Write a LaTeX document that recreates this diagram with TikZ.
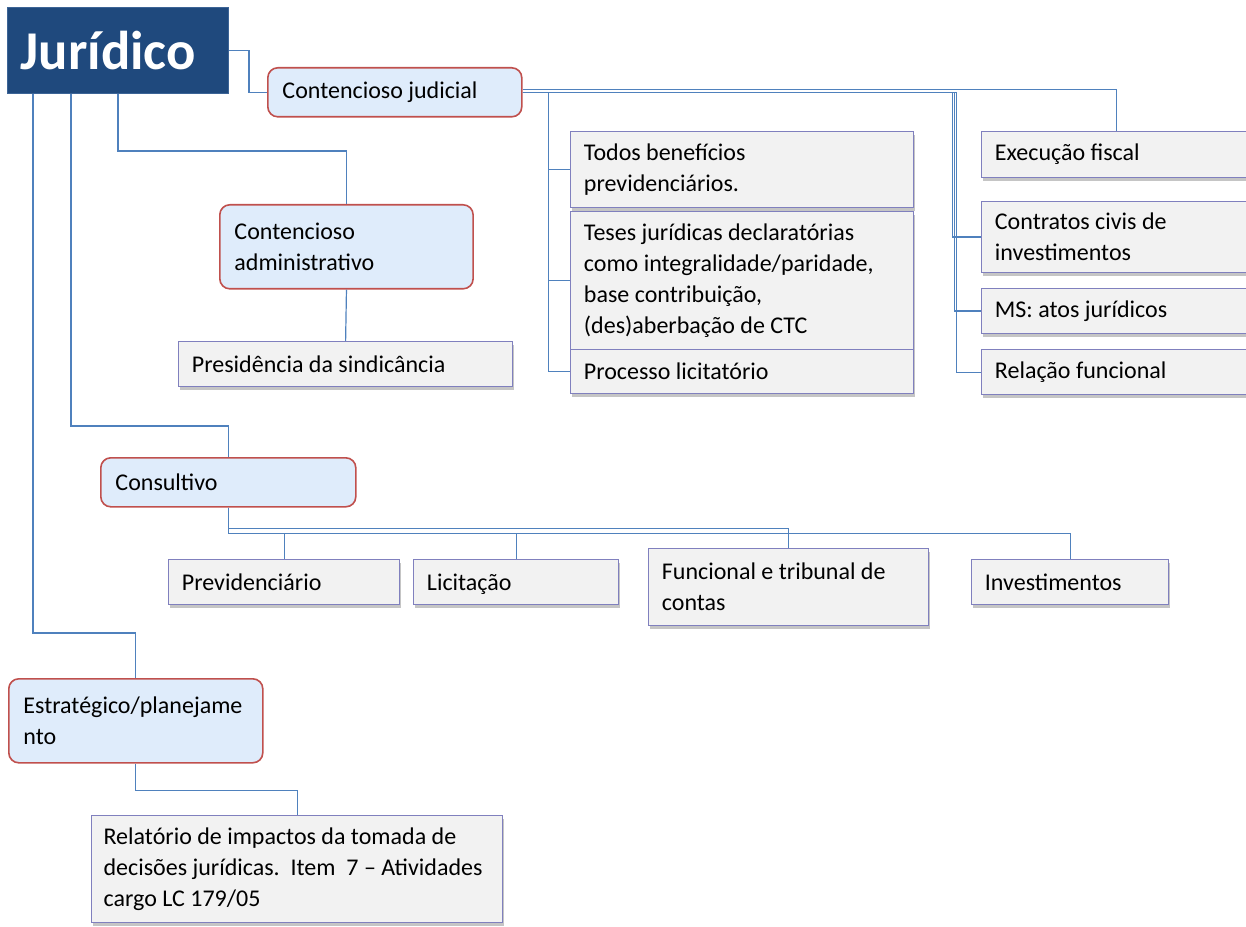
\documentclass[tikz,border=0pt]{standalone}
\usepackage{fontspec}
\setmainfont{Carlito}
\usepackage{tikz}
\usetikzlibrary{shadows,calc}

\begin{document}
\begin{tikzpicture}[x=0.75pt,y=0.75pt,yscale=-1,xscale=1,
  every node/.style={font=\fontsize{18}{23.25}\selectfont},
  topbox/.style={fill={rgb, 255:red, 31; green, 73; blue, 125}, draw={rgb, 255:red, 60; green, 100; blue, 150}, line width=0.8pt, text={rgb, 255:red, 255; green, 255; blue, 255}, font=\fontsize{41}{49}\selectfont\bfseries, inner xsep=10pt, inner ysep=2pt, align=flush left},
  groupbox/.style={rounded corners=7.5pt, fill={rgb, 255:red, 223; green, 236; blue, 251}, draw={rgb, 255:red, 192; green, 80; blue, 77}, line width=1.2pt, inner xsep=11pt, inner ysep=2pt, align=flush left},
  itembox/.style={fill={rgb, 255:red, 242; green, 242; blue, 242}, draw={rgb, 255:red, 128; green, 128; blue, 190}, line width=0.9pt, inner xsep=10pt, inner ysep=2pt, align=flush left, drop shadow={shadow xshift=0.75pt, shadow yshift=-2.5pt, opacity=0.35, fill={rgb, 255:red, 90; green, 90; blue, 90}}},
  link/.style={draw={rgb, 255:red, 79; green, 129; blue, 189}, line width=0.9pt}]
%set diagram left start at 0, and has height of 927
\path [use as bounding box] (0,0) rectangle (1246,927);

% Text Node
\draw (7,7) node [topbox, anchor=north west, text width=145.75pt, minimum height=64.5pt] (juridico) {Jurídico};
% Text Node
\draw (267,67) node [groupbox, anchor=north west, text width=168.5pt, minimum height=36.75pt] (cjud) {Contencioso judicial};
% Text Node
\draw (219,204) node [groupbox, anchor=north west, text width=168pt, minimum height=63pt] (cadm) {Contencioso\\administrativo};
% Text Node
\draw (100,457) node [groupbox, anchor=north west, text width=169.25pt, minimum height=36.75pt] (consult) {Consultivo};
% Text Node
\draw (8,678) node [groupbox, anchor=north west, text width=168.5pt, minimum height=63pt] (estrat) {Estratégico/planejame\\nto};

% Text Node
\draw (178,341) node [itembox, anchor=north west, text width=230.5pt, minimum height=33.75pt] (presid) {Presidência da sindicância};
% Text Node
\draw (570,131) node [itembox, anchor=north west, text width=237.25pt, minimum height=57pt] (todos) {Todos benefícios\\previdenciários.};
% Text Node
\draw (570,211) node [itembox, anchor=north west, text width=237.25pt, minimum height=103.5pt] (teses) {Teses jurídicas declaratórias\\como integralidade/paridade,\\base contribuição,\\(des)aberbação de CTC};
% Text Node
\draw (570,349) node [itembox, anchor=north west, text width=237.25pt, minimum height=33pt] (proc) {Processo licitatório};
% Text Node
\draw (981,131) node [itembox, anchor=north west, text width=182.5pt, minimum height=34.5pt] (exec) {Execução fiscal};
% Text Node
\draw (981,201) node [itembox, anchor=north west, text width=182.5pt, minimum height=53.25pt] (contr) {Contratos civis de\\investimentos};
% Text Node
\draw (981,288) node [itembox, anchor=north west, text width=182.5pt, minimum height=33.75pt] (ms) {MS: atos jurídicos};
% Text Node
\draw (981,349) node [itembox, anchor=north west, text width=182.5pt, minimum height=33.75pt] (rel) {Relação funcional};
% Text Node
\draw (168,559) node [itembox, anchor=north west, text width=153.25pt, minimum height=33.75pt] (prev) {Previdenciário};
% Text Node
\draw (413,559) node [itembox, anchor=north west, text width=133.75pt, minimum height=33.75pt, text depth=0pt] (licit) {Licitação};
% Text Node
\draw (648,548) node [itembox, anchor=north west, text width=190pt, minimum height=57.75pt] (func) {Funcional e tribunal de\\contas};
% Text Node
\draw (971,559) node [itembox, anchor=north west, text width=127.75pt, minimum height=33.75pt] (invest) {Investimentos};
% Text Node
\draw (91,815) node [itembox, anchor=north west, inner xsep=9pt, text width=290.25pt, minimum height=80.25pt] (relat) {Relatório de impactos da tomada de\\\mbox{decisões jurídicas.\ \ Item\ \ 7 -- Atividades}\\cargo LC 179/05};

%Straight Lines
\draw [link] (juridico.east) -- ++(20,0) |- (cjud.west);
\draw [link] (juridico.south) -- ++(0,57) -| (cadm.north);
\draw [link] ([xshift=-35.25pt]juridico.south) -- ++(0,332) -| (consult.north);
\draw [link] ([xshift=-63.75pt]juridico.south) -- ++(0,539) -| (estrat.north);
%Straight Lines
\draw [link] (cadm.south) -- (presid.north);
\draw [link] (estrat.south) -- ++(0,27) -| (relat.north);
\foreach \c/\d in {prev/26, licit/26, func/21, invest/26}
  \draw [link] (consult.south) -- ++(0,\d) -| (\c.north);
%Straight Lines
\foreach \c in {todos, teses, proc}
  \draw [link] (cjud.east) -- ++(26,0) |- (\c.west);
\draw [link] ($(cjud.east)+(0,-3)$) -| (exec.north);
\foreach \c/\d in {contr/430, ms/432, rel/434}
  \draw [link] (cjud.east) -- ++(\d,0) |- (\c.west);
\end{tikzpicture}
\end{document}
